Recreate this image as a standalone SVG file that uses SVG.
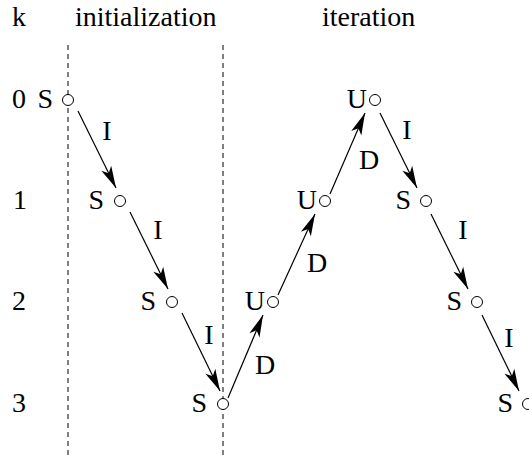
<svg xmlns="http://www.w3.org/2000/svg" width="529" height="455" viewBox="0 0 529 455">
  <style>
    text { font-size: 28px; fill: #000; }
    .lbl { text-anchor: middle; }
    .nl { text-anchor: end; }
    .pt { fill: #fff; stroke: #000; stroke-width: 1; }
    .guide { stroke: #000; stroke-width: 1; stroke-dasharray: 5 4; fill: none; }
    .edge { stroke: #000; stroke-width: 1.2; fill: none; marker-end: url(#head); }
  </style>
  <defs>
    <marker id="head" markerUnits="userSpaceOnUse" markerWidth="24" markerHeight="14" viewBox="-23 -7 24 14" refX="0" refY="0" orient="auto" overflow="visible">
      <path d="M0,0 L-22,-5.5 L-16.5,0 L-22,5.5 Z" fill="#000"/>
    </marker>
  </defs>
  <rect width="529" height="455" fill="#fff"/>

  <g font-family="Liberation Serif, Times New Roman, Times, serif">
  <!-- headers -->
  <g id="headers">
    <text x="12" y="26">k</text>
    <text x="75" y="26">initialization</text>
    <text x="322" y="26">iteration</text>
  </g>

  <!-- step index k -->
  <g id="rows">
    <text x="12" y="108">0</text>
    <text x="13" y="209">1</text>
    <text x="12" y="310">2</text>
    <text x="12" y="412">3</text>
  </g>

  <!-- phase separators -->
  <g id="separators">
    <line class="guide" x1="68" y1="45" x2="68" y2="455"/>
    <line class="guide" x1="223" y1="45" x2="223" y2="455"/>
  </g>

  <!-- transitions -->
  <g id="connectors">
    <line class="edge" x1="78" y1="111" x2="116" y2="188"/>
    <line class="edge" x1="130" y1="212" x2="168" y2="289"/>
    <line class="edge" x1="182" y1="313" x2="220" y2="391"/>
    <line class="edge" x1="228" y1="398" x2="263" y2="315"/>
    <line class="edge" x1="278" y1="295" x2="315" y2="214"/>
    <line class="edge" x1="330" y1="194" x2="365" y2="113"/>
    <line class="edge" x1="380" y1="113" x2="417" y2="188"/>
    <line class="edge" x1="431" y1="214" x2="468" y2="289"/>
    <line class="edge" x1="482" y1="315" x2="519" y2="391"/>
    <text class="lbl" x="107" y="140">I</text>
    <text class="lbl" x="158" y="239">I</text>
    <text class="lbl" x="209" y="344">I</text>
    <text class="lbl" x="265" y="374">D</text>
    <text class="lbl" x="317" y="272">D</text>
    <text class="lbl" x="369" y="169">D</text>
    <text class="lbl" x="407" y="139">I</text>
    <text class="lbl" x="463" y="239">I</text>
    <text class="lbl" x="509" y="347">I</text>
  </g>

  <!-- states -->
  <g id="n0"><text class="nl" x="53" y="108">S</text><circle class="pt" cx="68" cy="100" r="5.5"/></g>
  <g id="n1"><text class="nl" x="104" y="209">S</text><circle class="pt" cx="120" cy="201" r="5.5"/></g>
  <g id="n2"><text class="nl" x="156" y="310">S</text><circle class="pt" cx="172" cy="302" r="5.5"/></g>
  <g id="n3"><text class="nl" x="207" y="412">S</text><circle class="pt" cx="223" cy="404" r="5.5"/></g>
  <g id="n4"><text class="nl" x="265" y="310">U</text><circle class="pt" cx="273" cy="302" r="5.5"/></g>
  <g id="n5"><text class="nl" x="317" y="209">U</text><circle class="pt" cx="325" cy="201" r="5.5"/></g>
  <g id="n6"><text class="nl" x="367" y="108">U</text><circle class="pt" cx="375" cy="100" r="5.5"/></g>
  <g id="n7"><text class="nl" x="411" y="209">S</text><circle class="pt" cx="426" cy="201" r="5.5"/></g>
  <g id="n8"><text class="nl" x="462" y="310">S</text><circle class="pt" cx="477" cy="302" r="5.5"/></g>
  <g id="n9"><text class="nl" x="513" y="412">S</text><circle class="pt" cx="528" cy="404" r="5.5"/></g>
  </g>
</svg>
